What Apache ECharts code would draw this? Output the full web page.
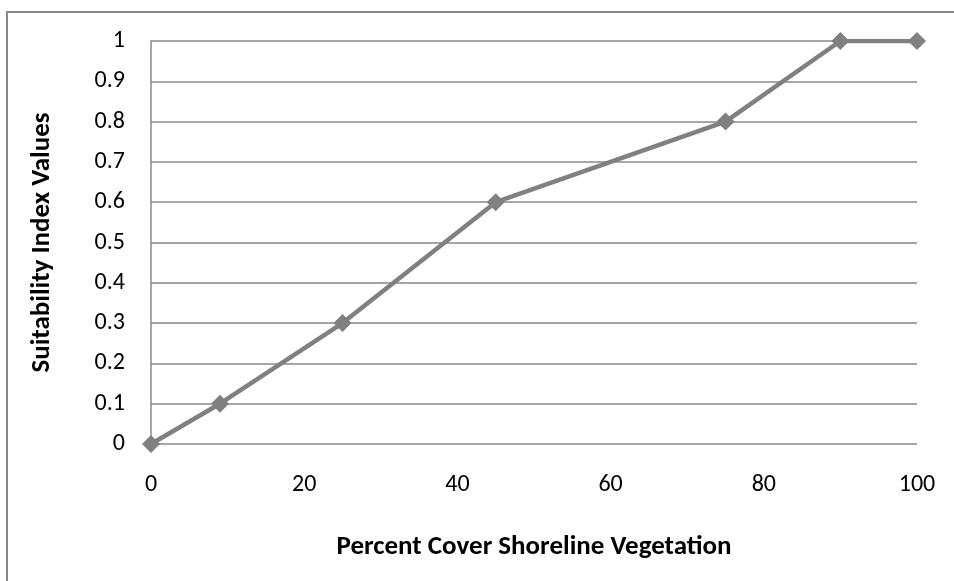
<!DOCTYPE html>
<html><head><meta charset="utf-8">
<script src="https://cdn.jsdelivr.net/npm/echarts@6/dist/echarts.min.js"></script>
<style>html,body{margin:0;padding:0;background:#fff}#c{width:954px;height:581px}</style>
</head><body><div id="c"></div>
<script>
const xValues = [0, 9, 25, 45, 75, 90, 100];
const yValues = [0, 0.1, 0.3, 0.6, 0.8, 1, 1];
const xTitle = 'Percent Cover Shoreline Vegetation';
const yTitle = 'Suitability Index Values';

const chart = echarts.init(document.getElementById('c'));
const font = 'Carlito, "Open Sans", "Liberation Sans", sans-serif';
chart.setOption({
  animation: false,
  backgroundColor: '#fff',
  graphic: [{
    type: 'rect', shape: {x: 7, y: 12, width: 960, height: 600},
    style: {fill: 'none', stroke: '#888', lineWidth: 2}, silent: true
  }],
  grid: {left: 151, right: 37, top: 41, bottom: 137},
  xAxis: {
    type: 'value', min: 0, max: 100, interval: 20,
    axisLine: {show: false}, axisTick: {show: false}, splitLine: {show: false},
    axisLabel: {color: '#000', fontSize: 24, fontFamily: font, margin: 29},
    name: xTitle, nameLocation: 'middle', nameGap: 90,
    nameTextStyle: {color: '#000', fontSize: 27, fontWeight: 'bold', fontFamily: font}
  },
  yAxis: {
    type: 'value', min: 0, max: 1, interval: 0.1,
    axisLine: {show: true, lineStyle: {color: '#888', width: 1.5}},
    axisTick: {show: false},
    splitLine: {show: true, lineStyle: {color: '#888', width: 1.5}},
    axisLabel: {color: '#000', fontSize: 24, fontFamily: font, margin: 26,
      formatter: v => String(Math.round(v * 10) / 10)},
    name: yTitle, nameLocation: 'middle', nameGap: 95,
    nameTextStyle: {color: '#000', fontSize: 27, fontWeight: 'bold', fontFamily: font}
  },
  series: [{
    type: 'line',
    data: xValues.map((x, i) => [x, yValues[i]]),
    symbol: 'diamond', symbolSize: 18,
    lineStyle: {color: '#808080', width: 4.5},
    itemStyle: {color: '#808080'}
  }]
});
</script></body></html>
